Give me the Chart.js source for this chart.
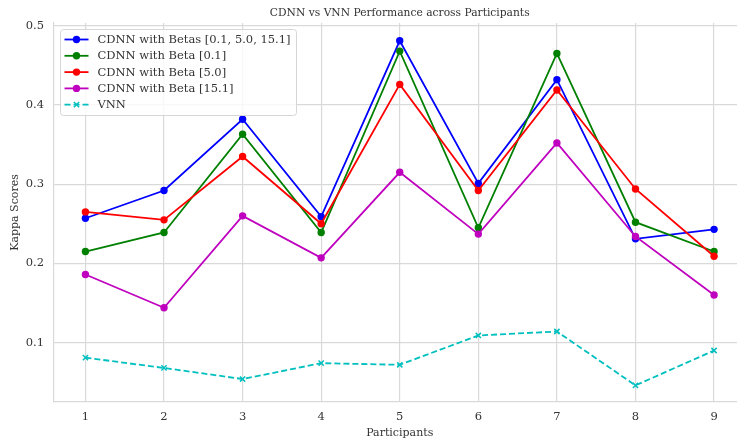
<!DOCTYPE html>
<html>
<head>
<meta charset="utf-8">
<script src="https://cdn.jsdelivr.net/npm/chart.js@4"></script>
<style>
  html, body { margin: 0; padding: 0; background: #fff; overflow: hidden; }
  canvas { display: block; }
</style>
</head>
<body>
<canvas id="kappa-chart" width="751" height="440"></canvas>
<script>
// Kappa scores per participant
var participants = [1, 2, 3, 4, 5, 6, 7, 8, 9];
var betasAll = [0.257, 0.292, 0.382, 0.259, 0.481, 0.301, 0.432, 0.231, 0.243];
var beta01 = [0.215, 0.239, 0.363, 0.239, 0.468, 0.245, 0.465, 0.252, 0.215];
var beta50 = [0.265, 0.255, 0.335, 0.250, 0.426, 0.292, 0.419, 0.294, 0.209];
var beta151 = [0.186, 0.144, 0.260, 0.207, 0.315, 0.237, 0.352, 0.234, 0.160];
var vnn = [0.081, 0.068, 0.054, 0.074, 0.072, 0.109, 0.114, 0.046, 0.090];

var seriesLabels = [
    "CDNN with Betas [0.1, 5.0, 15.1]",
    "CDNN with Beta [0.1]",
    "CDNN with Beta [5.0]",
    "CDNN with Beta [15.1]",
    "VNN"
];
var xTicks = [1, 2, 3, 4, 5, 6, 7, 8, 9];
var yTicks = [0.1, 0.2, 0.3, 0.4, 0.5];

var textColor = "#333333";
var gridColor = "#d9d9d9";
var serif = "'DejaVu Serif', serif";

function toPoints(values) {
    return participants.map(function (p, i) {
        return { x: p, y: values[i] };
    });
}

function lineSet(label, values, color, order) {
    return {
        label: label,
        data: toPoints(values),
        borderColor: color,
        backgroundColor: color,
        borderWidth: 1.8,
        pointRadius: 3.7,
        pointBorderWidth: 0,
        pointBackgroundColor: color,
        pointStyle: 'circle',
        tension: 0,
        order: order
    };
}

var datasets = [
    lineSet(seriesLabels[0], betasAll, "#0000ff", 4),
    lineSet(seriesLabels[1], beta01, "#008000", 3),
    lineSet(seriesLabels[2], beta50, "#ff0000", 2),
    lineSet(seriesLabels[3], beta151, "#bf00bf", 1),
    {
        label: seriesLabels[4],
        data: toPoints(vnn),
        borderColor: "#00bfbf",
        backgroundColor: "#00bfbf",
        borderWidth: 1.8,
        borderDash: [6, 3],
        pointStyle: 'crossRot',
        pointRadius: 3.7,
        pointBorderWidth: 1.5,
        pointBorderColor: "#00bfbf",
        tension: 0,
        order: 0
    }
];

// title + legend box drawn by hand so they sit over the plot area
var overlay = {
    id: 'overlay',
    afterDraw: function (chart) {
        var ctx = chart.ctx;
        var area = chart.chartArea;
        ctx.save();

        ctx.fillStyle = textColor;
        ctx.font = "10.7px " + serif;
        ctx.textAlign = "center";
        ctx.textBaseline = "middle";
        ctx.fillText("CDNN vs VNN Performance across Participants", (area.left + area.right) / 2, 13.5);

        var bx = area.left + 6.5, by = area.top + 6.5, bw = 236, bh = 86;
        ctx.beginPath();
        ctx.roundRect(bx, by, bw, bh, 3);
        ctx.fillStyle = "rgba(255,255,255,0.8)";
        ctx.fill();
        ctx.strokeStyle = "#d6d6d6";
        ctx.lineWidth = 1;
        ctx.stroke();

        chart.data.datasets.forEach(function (ds, i) {
            var rowY = by + 10 + i * 16.3;
            ctx.beginPath();
            ctx.setLineDash(ds.borderDash || []);
            ctx.strokeStyle = ds.borderColor;
            ctx.lineWidth = ds.borderWidth;
            ctx.moveTo(bx + 4, rowY);
            ctx.lineTo(bx + 28, rowY);
            ctx.stroke();
            ctx.setLineDash([]);
            ctx.fillStyle = ds.borderColor;
            ctx.strokeStyle = ds.borderColor;
            ctx.lineWidth = ds.pointBorderWidth || 1;
            Chart.helpers.drawPoint(ctx, {
                pointStyle: ds.pointStyle,
                radius: ds.pointRadius,
                borderWidth: ds.pointBorderWidth,
                rotation: 0
            }, bx + 16, rowY);
            ctx.fillStyle = textColor;
            ctx.font = "11.5px " + serif;
            ctx.textAlign = "left";
            ctx.fillText(ds.label, bx + 37, rowY + 0.5);
        });
        ctx.restore();
    }
};

var kappaChart = new Chart(document.getElementById("kappa-chart"), {
    type: 'line',
    data: { datasets: datasets },
    plugins: [overlay],
    options: {
        responsive: false,
        animation: false,
        layout: { padding: { left: 0, top: 23, right: 1, bottom: 0 } },
        plugins: {
            legend: { display: false },
            title: { display: false },
            tooltip: { enabled: false }
        },
        scales: {
            x: {
                type: 'linear',
                min: 0.6,
                max: 9.4,
                afterFit: function (scale) { scale.height = 38; },
                afterBuildTicks: function (scale) {
                    scale.ticks = xTicks.map(function (v) { return { value: v }; });
                },
                grid: { color: gridColor, lineWidth: 1.2, drawTicks: false },
                border: { color: gridColor, width: 1.2 },
                ticks: {
                    color: textColor,
                    font: { family: serif, size: 11.5 },
                    padding: 8,
                    maxRotation: 0,
                    callback: function (v) { return String(v); }
                },
                title: {
                    display: true,
                    text: "Participants",
                    color: textColor,
                    font: { family: serif, size: 11 },
                    padding: { top: 0, bottom: 0.5 }
                }
            },
            y: {
                min: 0.025,
                max: 0.5035,
                afterFit: function (scale) { scale.width = 54; },
                afterBuildTicks: function (scale) {
                    scale.ticks = yTicks.map(function (v) { return { value: v }; });
                },
                grid: { color: gridColor, lineWidth: 1.2, drawTicks: false },
                border: { color: gridColor, width: 1.2 },
                ticks: {
                    color: textColor,
                    font: { family: serif, size: 11.5 },
                    padding: 10,
                    callback: function (v) { return v.toFixed(1); }
                },
                title: {
                    display: true,
                    text: "Kappa Scores",
                    color: textColor,
                    font: { family: serif, size: 11 },
                    padding: { top: 9, bottom: 0 }
                }
            }
        }
    }
});
</script>
</body>
</html>
